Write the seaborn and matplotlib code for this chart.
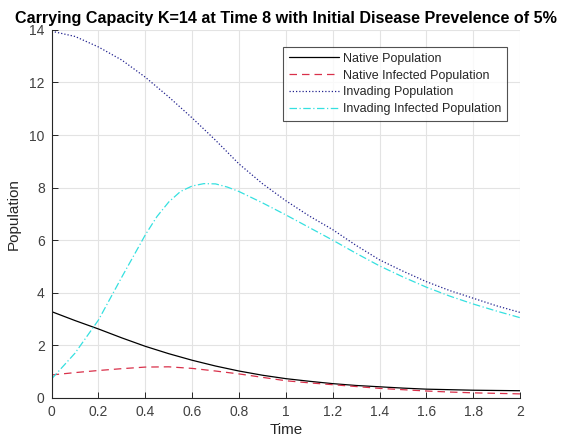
import numpy as np
import pandas as pd
import matplotlib
matplotlib.use('Agg')
import matplotlib.pyplot as plt
import seaborn as sns

# Werte (Schritt 0.1)
time = [0.0, 0.1, 0.2, 0.3, 0.4, 0.5, 0.6, 0.7, 0.8, 0.9, 1.0,
        1.1, 1.2, 1.3, 1.4, 1.5, 1.6, 1.7, 1.8, 1.9, 2.0]
native = [3.28, 2.94, 2.62, 2.28, 1.96, 1.68, 1.43, 1.21, 1.02, 0.86, 0.73,
          0.63, 0.54, 0.47, 0.42, 0.37, 0.33, 0.31, 0.29, 0.28, 0.27]
native_inf = [0.87, 0.96, 1.04, 1.11, 1.17, 1.18, 1.12, 1.02, 0.91, 0.78, 0.65,
              0.57, 0.50, 0.43, 0.36, 0.31, 0.26, 0.22, 0.19, 0.17, 0.15]
invading = [13.95, 13.75, 13.35, 12.85, 12.2, 11.45, 10.65, 9.8, 8.9, 8.15, 7.5,
            6.92, 6.4, 5.8, 5.25, 4.82, 4.42, 4.08, 3.79, 3.5, 3.25]
time_inv_inf = [0.0, 0.1, 0.2, 0.3, 0.4, 0.45, 0.5, 0.55, 0.6, 0.65, 0.7, 0.75, 0.8,
                0.9, 1.0, 1.1, 1.2, 1.3, 1.4, 1.5, 1.6, 1.7, 1.8, 1.9, 2.0]
invading_inf = [0.72, 1.7, 2.96, 4.6, 6.2, 6.9, 7.45, 7.85, 8.06, 8.15, 8.14, 8.02, 7.85,
                7.42, 6.96, 6.48, 6.0, 5.5, 5.02, 4.6, 4.21, 3.87, 3.57, 3.3, 3.05]

labels = ['Native Population', 'Native Infected Population',
          'Invading Population', 'Invading Infected Population']

df = pd.DataFrame({'Time': time, labels[0]: native, labels[1]: native_inf,
                   labels[2]: invading})
df_inf = pd.DataFrame({'Time': time_inv_inf, labels[3]: invading_inf})

sns.set_style('whitegrid')
plt.rcParams['font.family'] = ['Liberation Sans', 'DejaVu Sans']

fig = plt.figure(figsize=(5.61, 4.46), dpi=100)
ax = fig.add_axes([0.092, 0.108, 0.835, 0.825])

styles = [('black', '-'), ('#d9304a', (0, (6, 4))), ('#22228f', (0, (1, 1.6))), ('#35e0e0', (0, (6, 2, 1, 2)))]
for i, (name, (col, ls)) in enumerate(zip(labels, styles)):
    data = df_inf if i == 3 else df
    sns.lineplot(data=data, x='Time', y=name, ax=ax, color=col, linestyle=ls,
                 linewidth=0.9, label=name)

ax.set_xlim(0, 2)
ax.set_ylim(0, 14)
ax.set_xticks(np.arange(0, 2.01, 0.2))
ax.set_xticklabels(['0', '0.2', '0.4', '0.6', '0.8', '1', '1.2', '1.4', '1.6', '1.8', '2'])
ax.set_yticks(range(0, 15, 2))
ax.grid(True, color='#e3e3e3', linewidth=0.8)
for s in ['top', 'right']:
    ax.spines[s].set_visible(False)
for s in ['left', 'bottom']:
    ax.spines[s].set_color('#262626')
    ax.spines[s].set_linewidth(0.8)
ax.tick_params(direction='in', length=4, width=0.7, color='#262626',
               labelsize=10, labelcolor='#404040', left=True, bottom=True, pad=5)

ax.set_xlabel('Time', fontsize=11, color='#262626', labelpad=3)
ax.set_ylabel('Population', fontsize=11, color='#262626', labelpad=6)
ax.set_title('Carrying Capacity K=14 at Time 8 with Initial Disease Prevelence of 5%',
             fontsize=11.6, fontweight='bold', color='black', pad=5)

leg = ax.legend(loc='upper right', bbox_to_anchor=(0.985, 0.97), fontsize=9,
                frameon=True, fancybox=False, edgecolor='#262626',
                handlelength=4, labelspacing=0.38, borderpad=0.45, handletextpad=0.3)
leg.get_frame().set_linewidth(0.8)

fig.savefig('out.png', dpi=100)
